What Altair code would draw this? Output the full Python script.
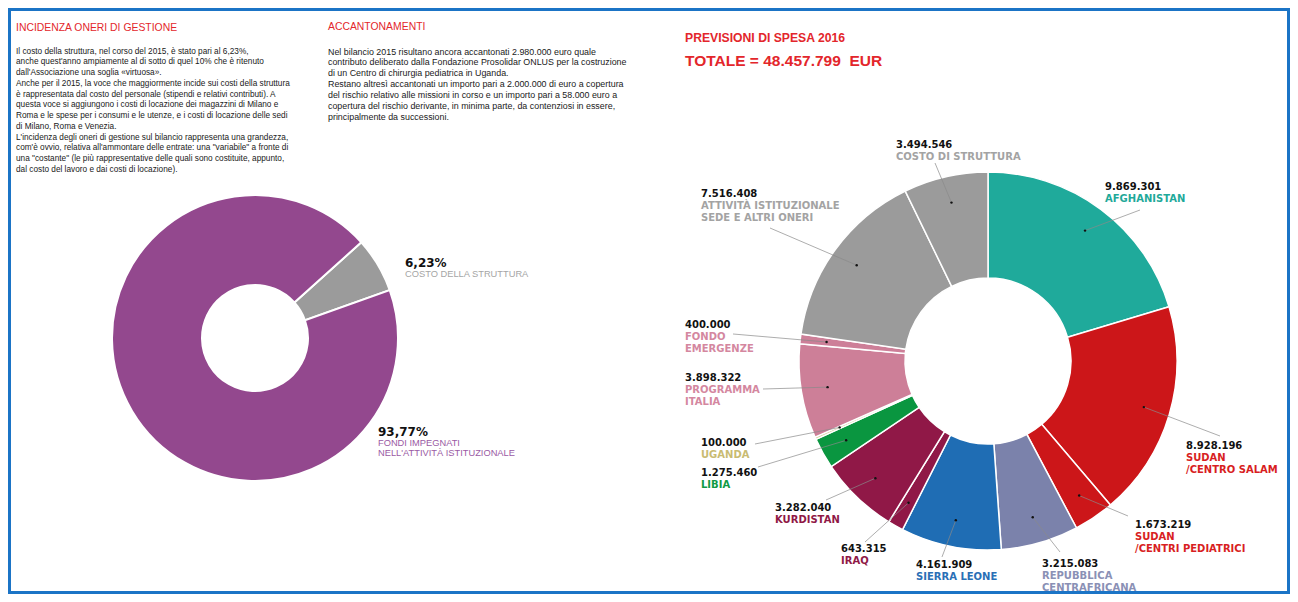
import math
import altair as alt
import pandas as pd

OFF = 8          # page margin: reference pixel -> chart pixel
W, H = 1282, 586

# ---------------- data ----------------
left_names = ["COSTO DELLA STRUTTURA", "FONDI IMPEGNATI\nNELL'ATTIVITÀ ISTITUZIONALE"]
left_pct = [6.23, 93.77]
left_pct_labels = ["6,23%", "93,77%"]

right_names = [
    "AFGHANISTAN",
    "SUDAN\n/CENTRO SALAM",
    "SUDAN\n/CENTRI PEDIATRICI",
    "REPUBBLICA\nCENTRAFRICANA",
    "SIERRA LEONE",
    "IRAQ",
    "KURDISTAN",
    "LIBIA",
    "UGANDA",
    "PROGRAMMA\nITALIA",
    "FONDO\nEMERGENZE",
    "ATTIVITÀ ISTITUZIONALE\nSEDE E ALTRI ONERI",
    "COSTO DI STRUTTURA",
]
right_values = [9869301, 8928196, 1673219, 3215083, 4161909, 643315,
                3282040, 1275460, 100000, 3898322, 400000, 7516408, 3494546]

title_left = "INCIDENZA ONERI DI GESTIONE"
title_mid = "ACCANTONAMENTI"
title_right_1 = "PREVISIONI DI SPESA 2016"
title_right_2 = "TOTALE = 48.457.799\u00a0\u00a0EUR"

par_left = [
    "Il costo della struttura, nel corso del 2015, è stato pari al 6,23%,",
    "anche quest'anno ampiamente al di sotto di quel 10% che è ritenuto",
    "dall'Associazione una soglia «virtuosa».",
    "Anche per il 2015, la voce che maggiormente incide sui costi della struttura",
    "è rappresentata dal costo del personale (stipendi e relativi contributi). A",
    "questa voce si aggiungono i costi di locazione dei magazzini di Milano e",
    "Roma e le spese per i consumi e le utenze, e i costi di locazione delle sedi",
    "di Milano, Roma e Venezia.",
    "L'incidenza degli oneri di gestione sul bilancio rappresenta una grandezza,",
    "com'è ovvio, relativa all'ammontare delle entrate: una \"variabile\" a fronte di",
    "una \"costante\" (le più rappresentative delle quali sono costituite, appunto,",
    "dal costo del lavoro e dai costi di locazione).",
]
par_mid = [
    "Nel bilancio 2015 risultano ancora accantonati 2.980.000 euro quale",
    "contributo deliberato dalla Fondazione Prosolidar ONLUS per la costruzione",
    "di un Centro di chirurgia pediatrica in Uganda.",
    "Restano altresì accantonati un importo pari a 2.000.000 di euro a copertura",
    "del rischio relativo alle missioni in corso e un importo pari a 58.000 euro a",
    "copertura del rischio derivante, in minima parte, da contenziosi in essere,",
    "principalmente da successioni.",
]

# ---------------- styles ----------------
left_colors = ["#9b9b9b", "#93488e"]
left_text_colors = ["#a5a5a5", "#9a5aa4"]
right_colors = ["#1faa9b", "#cc1619", "#cc1619", "#7b82ab", "#1f6db4", "#901847",
                "#901847", "#0a9640", "#d9d4a6", "#cd7f98", "#cd7f98", "#9b9b9b", "#9b9b9b"]
right_text_colors = ["#1fa99a", "#d81e22", "#d81e22", "#8a90b5", "#2a6fb6", "#8f1846",
                     "#8f1846", "#0f9a44", "#c9bb72", "#d4879f", "#d4879f", "#a3a3a3", "#a3a3a3"]
RED = "#e3262b"
BODY = "Liberation Sans, Arial, sans-serif"
LBL = "DejaVu Sans, Verdana, sans-serif"

# ---------------- layout (reference pixel coords) ----------------
L_CX, L_CY, L_R, L_RIN = 255, 338, 143, 53
L_START = math.radians(48)
left_label_xy = [(405, 263), (378, 432)]

R_CX, R_CY, R_R, R_RIN = 988, 361, 189, 83
R_DOT = 0.86 * R_R
right_label_xy = [(1105, 187), (1186, 446), (1135, 525), (1042, 564), (916, 565),
                  (841, 549), (775, 508), (701, 473), (701, 443), (685, 378),
                  (685, 325), (701, 194), (896, 145)]
right_leader_end = [(1140, 210), (1220, 436), (1128, 516), (1060, 552), (942, 557),
                    (865, 542), (826, 500), (758, 467), (755, 444), (763, 389),
                    (733, 334), (770, 228), (935, 163)]


def fmt(v):
    return f"{v:,}".replace(",", ".")


# ---------------- tables ----------------
left_df = pd.DataFrame({"name": left_names, "value": left_pct,
                        "color": left_colors, "idx": range(len(left_pct))})
right_df = pd.DataFrame({
    "name": right_names, "value": right_values, "color": right_colors,
    "idx": range(len(right_values)),
    "lx": [p[0] - OFF for p in right_leader_end],
    "ly": [p[1] - OFF for p in right_leader_end],
})

val_rows, name_rows = [], []
for i, v in enumerate(right_values):
    x, y = right_label_xy[i]
    val_rows.append({"px": x - OFF, "py": y - OFF, "text": fmt(v)})
    for j, line in enumerate(right_names[i].split("\n")):
        name_rows.append({"px": x - OFF, "py": y - OFF + 12 + 11.5 * j,
                          "text": line, "color": right_text_colors[i]})
lp_rows, ln_rows = [], []
for i, p in enumerate(left_pct_labels):
    x, y = left_label_xy[i]
    lp_rows.append({"px": x - OFF, "py": y - OFF, "text": p})
    for j, line in enumerate(left_names[i].split("\n")):
        ln_rows.append({"px": x - OFF, "py": y - OFF + 10.5 + 10 * j,
                        "text": line, "color": left_text_colors[i]})

par_left_rows = [{"px": 16 - OFF, "py": 51.5 - OFF + 10.75 * j, "text": line}
                 for j, line in enumerate(par_left)]
par_mid_rows = [{"px": 328 - OFF, "py": 51.5 - OFF + 10.9 * j, "text": line}
                for j, line in enumerate(par_mid)]

sec_rows = [{"px": 16 - OFF, "py": 28 - OFF, "text": title_left},
            {"px": 328 - OFF, "py": 27 - OFF, "text": title_mid}]


def px_enc():
    return dict(x=alt.X("px:Q", scale=None), y=alt.Y("py:Q", scale=None))


# ---------------- layers ----------------
border = alt.Chart(pd.DataFrame({"a": [0]})).mark_rect(
    fillOpacity=0, stroke="#1b74c6", strokeWidth=3
).encode(x=alt.value(1.5), x2=alt.value(W - 1.5), y=alt.value(1.5), y2=alt.value(H - 1.5))

left_arc = alt.Chart(left_df).mark_arc(
    radius=L_R, radius2=L_RIN, stroke="white", strokeWidth=2
).encode(
    theta=alt.Theta("value:Q", stack=True,
                    scale=alt.Scale(range=[L_START, L_START + 2 * math.pi])),
    order=alt.Order("idx:Q"),
    color=alt.Color("color:N", scale=None),
    x=alt.value(L_CX - OFF), y=alt.value(L_CY - OFF),
)

right_arc = alt.Chart(right_df).mark_arc(
    radius=R_R, radius2=R_RIN, stroke="white", strokeWidth=1.5
).encode(
    theta=alt.Theta("value:Q", stack=True, scale=alt.Scale(range=[0, 2 * math.pi])),
    order=alt.Order("idx:Q"),
    color=alt.Color("color:N", scale=None),
    x=alt.value(R_CX - OFF), y=alt.value(R_CY - OFF),
)

polar = alt.Chart(right_df).transform_joinaggregate(
    total="sum(value)"
).transform_window(
    cum="sum(value)", sort=[alt.SortField("idx")], frame=[None, 0]
).transform_calculate(
    ang="(datum.cum - datum.value / 2) / datum.total * 2 * PI",
    px=f"{R_CX - OFF} + {R_DOT} * sin(datum.ang)",
    py=f"{R_CY - OFF} - {R_DOT} * cos(datum.ang)",
)
leaders = polar.mark_rule(color="#8a8a8a", strokeWidth=0.7).encode(
    **px_enc(), x2=alt.X2("lx:Q"), y2=alt.Y2("ly:Q"))
dots = polar.mark_circle(size=6, color="#111", opacity=1).encode(**px_enc())

val_text = alt.Chart(pd.DataFrame(val_rows)).mark_text(
    align="left", baseline="middle", font=LBL, fontSize=10, fontWeight="bold", color="#111"
).encode(**px_enc(), text="text:N")
name_text = alt.Chart(pd.DataFrame(name_rows)).mark_text(
    align="left", baseline="middle", font=LBL, fontSize=10, fontWeight="bold"
).encode(**px_enc(), text="text:N", color=alt.Color("color:N", scale=None))

lp_text = alt.Chart(pd.DataFrame(lp_rows)).mark_text(
    align="left", baseline="middle", font=LBL, fontSize=12, fontWeight="bold", color="#111"
).encode(**px_enc(), text="text:N")
ln_text = alt.Chart(pd.DataFrame(ln_rows)).mark_text(
    align="left", baseline="middle", font=BODY, fontSize=9.3
).encode(**px_enc(), text="text:N", color=alt.Color("color:N", scale=None))

par_left_text = alt.Chart(pd.DataFrame(par_left_rows)).mark_text(
    align="left", baseline="middle", font=BODY, fontSize=8.25, color="#1a1a1a"
).encode(**px_enc(), text="text:N")
par_mid_text = alt.Chart(pd.DataFrame(par_mid_rows)).mark_text(
    align="left", baseline="middle", font=BODY, fontSize=8.9, color="#1a1a1a"
).encode(**px_enc(), text="text:N")

sec_text = alt.Chart(pd.DataFrame(sec_rows)).mark_text(
    align="left", baseline="middle", font=BODY, fontSize=10.4, color=RED
).encode(**px_enc(), text="text:N")

big1 = alt.Chart(pd.DataFrame({"text": [title_right_1]})).mark_text(
    align="left", baseline="middle", font=BODY, fontSize=12.2, fontWeight="bold", color=RED
).encode(x=alt.value(685 - OFF), y=alt.value(38 - OFF), text="text:N")
big2 = alt.Chart(pd.DataFrame({"text": [title_right_2]})).mark_text(
    align="left", baseline="middle", font=BODY, fontSize=15.5, fontWeight="bold", color=RED
).encode(x=alt.value(685 - OFF), y=alt.value(61 - OFF), text="text:N")

chart = alt.layer(
    border, left_arc, right_arc, leaders, dots,
    val_text, name_text, lp_text, ln_text, par_left_text, par_mid_text,
    sec_text, big1, big2,
).resolve_scale(theta="independent").properties(
    width=W, height=H, autosize=alt.AutoSizeParams(type="none"), padding=0,
    background="white",
).configure_view(stroke=None)

chart.save("out.html", embed_options={"renderer": "svg", "actions": False})
